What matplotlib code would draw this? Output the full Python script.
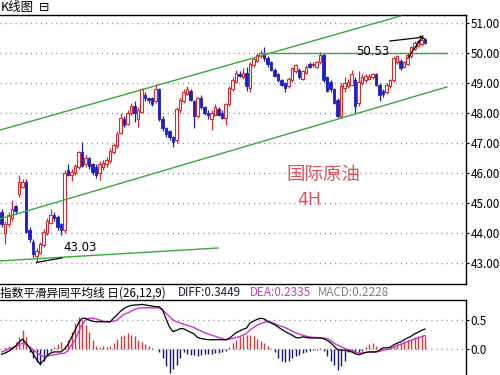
import matplotlib
matplotlib.use("Agg")
import matplotlib.pyplot as plt
import numpy as np

# ---------------- data ----------------
opens = [44.7, 44.0, 44.3, 44.5, 44.9, 45.3, 45.55, 45.7, 44.1, 43.7,
         43.25, 43.35, 43.6, 44.0, 44.35, 44.6, 44.55, 44.3, 44.1, 46.1,
         45.95, 46.0, 46.2, 46.7, 46.3, 46.5, 46.3, 46.2, 46.0, 46.2,
         46.3, 46.4, 46.7, 46.9, 47.35, 47.8, 47.65, 48.0, 48.25, 47.8,
         48.05, 48.6, 48.5, 48.5, 48.4, 48.8, 47.8, 47.5, 47.4, 47.2,
         47.1, 48.1, 48.4, 48.65, 48.75, 48.4, 47.9, 48.5, 48.2, 48.0,
         47.8, 47.95, 48.15, 48.0, 47.85, 48.3, 48.8, 49.05, 49.3, 49.2,
         49.35, 48.85, 49.6, 49.75, 49.9, 50.0, 49.85, 49.7, 49.45, 49.3,
         49.1, 49.0, 48.9, 49.1, 49.4, 49.45, 49.15, 49.35, 49.65, 49.6,
         49.55, 49.7, 49.95, 49.2, 49.05, 48.8, 48.45, 47.9, 48.85, 48.9,
         48.95, 49.1, 48.35, 49.0, 49.1, 49.15, 49.2, 49.3, 48.95, 48.75,
         48.7, 48.9, 49.1, 49.7, 49.75, 49.55, 49.65, 49.9, 50.15, 50.25,
         50.3, 50.45]
closes = [44.3, 44.3, 44.6, 44.8, 44.75, 45.7, 45.7, 44.05, 43.8, 43.3,
          43.4, 43.65, 44.05, 44.4, 44.6, 44.5, 44.2, 44.1, 46.0, 45.95,
          46.05, 46.25, 46.7, 46.25, 46.5, 46.25, 46.05, 45.95, 46.3, 46.35,
          46.45, 46.75, 46.95, 47.3, 47.85, 47.6, 48.0, 48.25, 48.0, 48.1,
          48.8, 48.5, 48.45, 48.3, 48.8, 47.8, 47.5, 47.3, 47.2, 47.05,
          48.15, 48.45, 48.7, 48.8, 48.45, 47.9, 48.5, 48.2, 48.0, 47.95,
          48.0, 48.2, 47.95, 47.85, 48.3, 48.85, 49.1, 49.35, 49.25, 49.35,
          48.9, 49.65, 49.8, 49.95, 50.0, 49.85, 49.65, 49.45, 49.25, 49.1,
          48.95, 48.85, 49.15, 49.5, 49.6, 49.2, 49.4, 49.55, 49.55, 49.65,
          49.7, 49.95, 49.1, 48.75, 48.8, 48.35, 47.9, 48.9, 49.0, 49.05,
          49.3, 48.25, 49.05, 49.2, 49.25, 49.25, 49.3, 48.95, 48.6, 48.65,
          48.95, 49.1, 49.85, 49.9, 49.5, 49.7, 49.95, 50.2, 50.35, 50.4,
          50.45, 50.35]
highs = [44.8, 44.4, 44.7, 45.1, 44.95, 45.95, 45.8, 45.8, 44.2, 43.8,
         43.5, 43.7, 44.15, 44.5, 44.8, 44.7, 44.6, 44.35, 46.1, 46.3,
         46.15, 46.3, 46.75, 47.05, 46.6, 46.55, 46.35, 46.3, 46.4, 46.45,
         46.55, 46.85, 47.0, 47.4, 48.0, 47.9, 48.1, 48.35, 48.4, 48.2,
         48.85, 48.7, 48.55, 48.55, 48.97, 48.85, 47.9, 47.55, 47.45, 47.25,
         48.2, 48.5, 48.8, 48.9, 48.8, 48.45, 48.55, 48.6, 48.25, 48.1,
         48.1, 48.3, 48.2, 48.1, 48.35, 48.9, 49.2, 49.45, 49.4, 49.5,
         49.55, 49.7, 49.85, 50.0, 50.1, 50.22, 49.9, 49.75, 49.5, 49.35,
         49.15, 49.05, 49.2, 49.55, 49.65, 49.5, 49.45, 49.6, 49.7, 49.7,
         49.75, 50.05, 50.0, 49.25, 49.1, 48.85, 48.5, 49.0, 49.2, 49.15,
         49.45, 49.2, 49.4, 49.3, 49.3, 49.3, 49.35, 49.35, 49.0, 48.8,
         49.0, 49.15, 49.9, 49.95, 49.8, 49.75, 50.0, 50.25, 50.4, 50.45,
         50.53, 50.5]
lows = [44.2, 43.65, 44.2, 44.4, 44.65, 45.2, 45.5, 44.0, 43.7, 43.2,
        43.03, 43.3, 43.55, 43.95, 44.3, 44.4, 44.1, 43.95, 44.0, 45.9,
        45.75, 45.95, 46.15, 46.2, 46.2, 46.15, 45.95, 45.85, 45.78, 46.1,
        46.2, 46.35, 46.65, 46.85, 47.3, 47.55, 47.6, 47.95, 47.7, 47.55,
        48.0, 48.4, 48.35, 48.25, 48.35, 47.75, 47.4, 47.2, 47.1, 46.88,
        47.0, 48.0, 48.35, 48.6, 48.4, 47.5, 47.85, 48.15, 47.95, 47.8,
        47.45, 47.9, 47.9, 47.8, 47.6, 48.25, 48.75, 49.0, 49.2, 49.15,
        48.75, 48.7, 49.55, 49.7, 49.85, 49.75, 49.55, 49.4, 49.2, 49.05,
        48.9, 48.7, 48.85, 49.05, 49.35, 49.15, 49.1, 49.3, 49.5, 49.55,
        49.5, 49.65, 49.05, 48.7, 48.7, 48.3, 47.85, 47.85, 48.7, 48.85,
        48.9, 48.0, 48.25, 48.95, 49.05, 49.1, 49.15, 48.9, 48.4, 48.55,
        48.65, 48.85, 49.05, 49.65, 49.45, 49.5, 49.6, 49.85, 50.1, 50.2,
        50.25, 50.3]

diff = [-0.09, -0.07, -0.04, 0.0, 0.05, 0.12, 0.17, 0.10, 0.02, -0.08,
        -0.18, -0.26, -0.2, -0.12, -0.07, -0.05, -0.05, -0.05, 0.0, 0.08,
        0.2, 0.32, 0.45, 0.53, 0.53, 0.5, 0.48, 0.47, 0.47, 0.47,
        0.47, 0.47, 0.53, 0.59, 0.65, 0.7, 0.73, 0.75, 0.76, 0.76,
        0.77, 0.76, 0.75, 0.74, 0.73, 0.73, 0.68, 0.52, 0.38, 0.3,
        0.32, 0.35, 0.35, 0.32, 0.29, 0.26, 0.2, 0.18, 0.17, 0.16,
        0.16, 0.16, 0.16, 0.16, 0.16, 0.18, 0.23, 0.28, 0.31, 0.34,
        0.36, 0.45, 0.48, 0.51, 0.53, 0.52, 0.48, 0.45, 0.42, 0.38,
        0.34, 0.3, 0.27, 0.24, 0.2, 0.19, 0.21, 0.2, 0.19, 0.19,
        0.19, 0.19, 0.18, 0.15, 0.11, 0.05, -0.01, -0.02, -0.02, -0.03,
        -0.05, -0.08, -0.1, -0.08, -0.06, -0.05, -0.05, -0.05, -0.02, 0.02,
        0.02, 0.03, 0.07, 0.1, 0.12, 0.16, 0.19, 0.22, 0.26, 0.29,
        0.32, 0.3449]
dea = [-0.05, -0.03, 0.0, 0.02, 0.04, 0.07, 0.10, 0.08, 0.04, -0.01,
       -0.06, -0.1, -0.13, -0.12, -0.11, -0.1, -0.09, -0.08, -0.07, -0.03,
       0.07, 0.15, 0.3, 0.42, 0.5, 0.53, 0.53, 0.52, 0.5, 0.48,
       0.47, 0.47, 0.48, 0.5, 0.55, 0.6, 0.62, 0.65, 0.68, 0.7,
       0.71, 0.71, 0.71, 0.71, 0.71, 0.71, 0.67, 0.62, 0.56, 0.5,
       0.47, 0.45, 0.43, 0.41, 0.39, 0.37, 0.34, 0.31, 0.28, 0.26,
       0.24, 0.22, 0.2, 0.18, 0.16, 0.17, 0.18, 0.2, 0.21, 0.24,
       0.27, 0.33, 0.37, 0.41, 0.44, 0.46, 0.47, 0.46, 0.44, 0.41,
       0.39, 0.37, 0.34, 0.31, 0.28, 0.26, 0.24, 0.22, 0.21, 0.2,
       0.2, 0.19, 0.19, 0.18, 0.15, 0.1, 0.07, 0.04, 0.01, -0.01,
       -0.03, -0.05, -0.07, -0.07, -0.06, -0.05, -0.05, -0.05, -0.04, -0.02,
       -0.01, 0.0, 0.03, 0.06, 0.08, 0.1, 0.13, 0.15, 0.17, 0.19,
       0.21, 0.2335]
macd = [0.0, 0.03, 0.05, 0.05, 0.12, 0.2, 0.33, 0.2, -0.05, -0.15,
        -0.22, -0.28, -0.2, -0.1, -0.03, 0.03, 0.08, 0.12, 0.06, 0.15,
        0.3, 0.45, 0.55, 0.5, 0.42, 0.3, 0.15, 0.05, 0.04, 0.05,
        0.03, 0.05, 0.1, 0.18, 0.22, 0.25, 0.28, 0.25, 0.22, 0.15,
        0.12, 0.08, 0.06, 0.02, 0.0, -0.05, -0.15, -0.3, -0.41, -0.35,
        -0.28, -0.15, -0.06, -0.08, -0.1, -0.1, -0.12, -0.1, -0.09, -0.08,
        -0.08, -0.07, -0.07, -0.06, -0.04, 0.03, 0.1, 0.15, 0.2, 0.22,
        0.24, 0.24, 0.22, 0.18, 0.14, 0.1, 0.05, 0.02, -0.05, -0.15,
        -0.2, -0.22, -0.2, -0.15, -0.12, -0.1, -0.07, -0.05, -0.03, -0.02,
        -0.01, 0.01, -0.03, -0.12, -0.2, -0.28, -0.36, -0.3, -0.2, -0.06,
        -0.05, -0.06, -0.05, -0.03, 0.04, 0.08, 0.1, 0.06, 0.02, 0.02,
        0.02, 0.03, 0.06, 0.08, 0.1, 0.13, 0.15, 0.18, 0.2, 0.22,
        0.24, 0.2228]

price_ticks = [43, 44, 45, 46, 47, 48, 49, 50, 51]
macd_ticks = [0.0, 0.5]

# trend lines drawn on the chart: (index, price) endpoints
trend_upper = [(-0.43, 47.44), (113.9, 51.24)]
trend_lower = [(-0.43, 44.48), (127.3, 48.88)]
trend_flat = [(74.7, 50.0), (127.3, 50.0)]
trend_support = [(-0.43, 43.08), (61.9, 43.51)]
high_marks = [[(111.0, 50.41), (119.9, 50.53)],
              [(116.1, 49.84), (120.4, 50.58)],
              [(119.6, 50.58), (121.3, 50.44)]]
low_marks = [[(10.0, 43.03), (17.3, 43.18)]]

# ---------------- drawing ----------------
plt.rcParams['font.family'] = ['Noto Sans CJK SC', 'DejaVu Sans']
W, H = 500, 375
fig = plt.figure(figsize=(5, 3.75), dpi=100)
fig.patch.set_facecolor('white')

def fx(px):
    return px / W

def fy(py):
    return 1 - py / H

ax = fig.add_axes([0, fy(284), fx(466), fy(15) - fy(284)])
axm = fig.add_axes([0, 0, fx(466), fy(300)])

n = len(closes)
idx = np.arange(n)
xlim = (-0.43, 132.71)
RED = '#d8262c'
BLUE = '#1f1fbf'
GREEN = '#3aa83a'
grid_kw = dict(color='#8a8a8a', lw=1.0, linestyle=(0, (0.75, 2.9)))

for a in (ax, axm):
    a.set_xlim(*xlim)
    a.set_xticks([])
    a.yaxis.tick_right()
    a.spines['left'].set_visible(False)
    for s in ('top', 'right', 'bottom'):
        a.spines[s].set_color('black')
        a.spines[s].set_linewidth(1.0)
    a.tick_params(axis='y', length=2, width=0.8, pad=1.5, labelsize=8.4,
                  colors='black')
axm.spines['bottom'].set_visible(False)

ax.set_ylim(42.31, 51.277)
ax.set_yticks(price_ticks)
ax.set_yticklabels([f"{v:.2f}" for v in price_ticks])
for v in price_ticks:
    ax.axhline(v, zorder=0, **grid_kw)

# candles
o = np.array(opens); c = np.array(closes)
hi = np.array(highs); lo = np.array(lows)
up = c >= o
ax.vlines(idx[up], lo[up], hi[up], color=RED, lw=0.9, zorder=2)
ax.vlines(idx[~up], lo[~up], hi[~up], color=BLUE, lw=0.9, zorder=2)
bw = 0.62
ax.bar(idx[up], (c - o)[up], bottom=o[up], width=bw, facecolor='white',
       edgecolor=RED, linewidth=0.8, zorder=3)
ax.bar(idx[~up], (o - c)[~up], bottom=c[~up], width=bw, facecolor=BLUE,
       edgecolor=BLUE, linewidth=0.6, zorder=3)

for seg in (trend_upper, trend_lower, trend_flat, trend_support):
    (x0, y0), (x1, y1) = seg
    ax.plot([x0, x1], [y0, y1], color=GREEN, lw=1.0, zorder=4)
for seg in high_marks + low_marks:
    (x0, y0), (x1, y1) = seg
    ax.plot([x0, x1], [y0, y1], color='black', lw=0.9, zorder=5)

ax.text(106.1, 50.07, "50.53", fontsize=8.5, color='black',
        ha='center', va='center', family=['DejaVu Sans'], zorder=6)
ax.text(22.4, 43.53, "43.03", fontsize=8.5, color='black',
        ha='center', va='center', family=['DejaVu Sans'], zorder=6)

# labels in the plot
fig.text(fx(323), fy(175), "国际原油", fontsize=13.3, color='#e0505a',
         ha='center', va='center')
fig.text(fx(309), fy(200), "4H", fontsize=12.5, color='#e0505a',
         ha='center', va='center', family=['DejaVu Sans'])

# title of main panel
fig.text(fx(0.5), fy(7.5), "K线图", fontsize=9, color='black', ha='left',
         va='center')
fig.text(fx(39), fy(7.5), "⊟", fontsize=9, color='black', ha='left',
         va='center', family=['DejaVu Sans', 'Noto Sans CJK SC'])

# MACD panel
axm.set_ylim(-0.448, 0.845)
axm.set_yticks(macd_ticks)
axm.set_yticklabels([f"{v:.1f}" for v in macd_ticks])
for v in macd_ticks:
    axm.axhline(v, zorder=0, **grid_kw)
m = np.array(macd)
pos = m > 0
axm.vlines(idx[pos], 0, m[pos], color='#d23a3a', lw=1.0, zorder=2)
axm.vlines(idx[~pos], 0, m[~pos], color='#15157a', lw=1.0, zorder=2)
axm.plot(idx, dea, color='#cc33cc', lw=1.0, zorder=3)
axm.plot(idx, diff, color='black', lw=0.9, zorder=4)

ty = fy(293)
fig.text(fx(0), ty, "指数平滑异同平均线 日(26,12,9)", fontsize=8.4,
         color='black', ha='left', va='center')
fig.text(fx(178), ty, "DIFF:0.3449", fontsize=8.4, color='#1a1a30',
         ha='left', va='center')
fig.text(fx(250), ty, "DEA:0.2335", fontsize=8.4, color='#c040c0',
         ha='left', va='center')
fig.text(fx(318), ty, "MACD:0.2228", fontsize=8.4, color='#808080',
         ha='left', va='center')

fig.savefig("out.png", dpi=100, facecolor='white')
